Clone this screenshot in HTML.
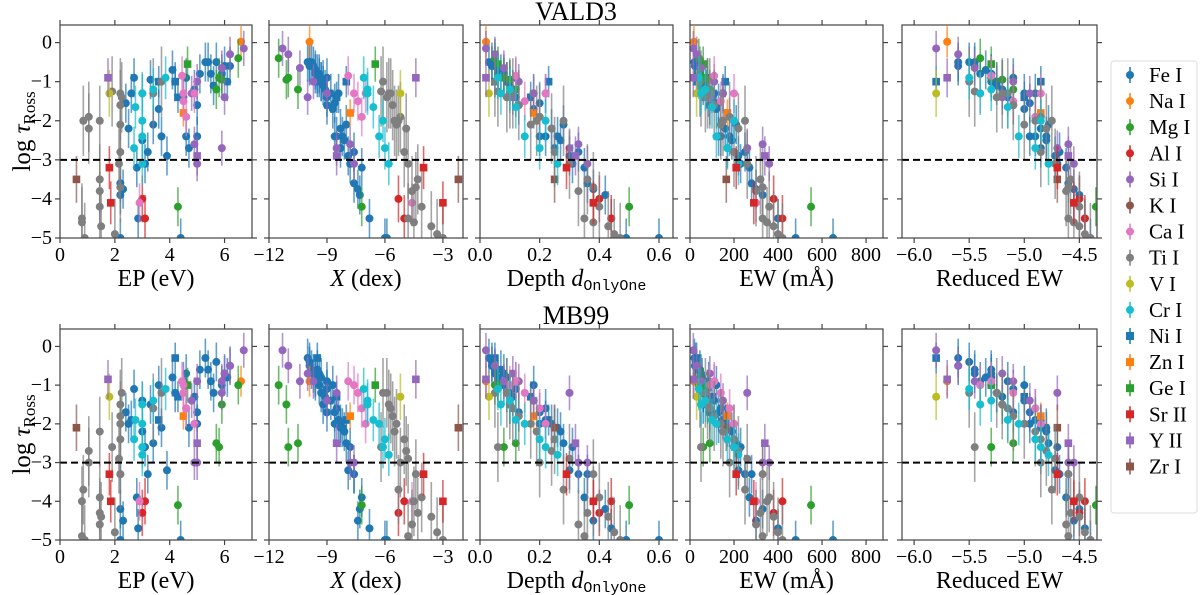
<!DOCTYPE html>
<html><head><meta charset="utf-8">
<style>
html,body{margin:0;padding:0;background:#fff;}
svg{display:block;}
svg text{font-family:"Liberation Serif",serif;}
</style></head>
<body>
<svg id="fig" width="1200" height="595" viewBox="0 0 1200 595" font-family="Liberation Serif, serif"></svg>
<script>
// species: 0 Fe I,1 Na I,2 Mg I,3 Al I,4 Si I,5 K I,6 Ca I,7 Ti I,8 V I,9 Cr I,10 Ni I,11 Zn I,12 Ge I,13 Sr II,14 Y II,15 Zr I
const speciesNames = ["Fe I","Na I","Mg I","Al I","Si I","K I","Ca I","Ti I","V I","Cr I","Ni I","Zn I","Ge I","Sr II","Y II","Zr I"];
const speciesColors = ["#1f77b4","#ff7f0e","#2ca02c","#d62728","#9467bd","#8c564b","#e377c2","#7f7f7f","#bcbd22","#17becf","#1f77b4","#ff7f0e","#2ca02c","#d62728","#9467bd","#8c564b"];
const speciesErr = [0.5,0.4,0.5,0.6,0.45,0.5,0.5,0.9,0.6,0.55,0.4,0.35,0.45,0.55,0.5,0.6];
const lineSpecies = [0,0,0,0,0,0,0,0,0,0,0,0,0,0,0,0,0,0,0,0,0,0,0,0,0,0,0,0,0,0,0,0,0,0,0,0,0,0,0,10,10,10,1,11,2,2,2,2,2,12,3,3,4,4,4,4,4,4,4,4,4,15,6,6,6,6,6,6,7,7,7,7,7,7,7,7,7,7,7,7,7,7,7,7,7,7,7,7,7,7,8,9,9,9,9,9,9,9,9,13,13,14,14];
const lineEP = [2.2,2.2,2.3,2.4,2.5,2.6,2.7,2.85,3.0,3.0,3.1,3.3,3.6,3.7,3.9,4.1,4.2,4.5,4.6,4.6,4.7,4.9,5.0,5.0,5.1,5.4,5.5,5.6,5.7,5.9,6.0,6.1,6.2,5.3,2.2,4.4,3.4,3.2,2.8,3.6,4.3,4.2,6.6,4.5,6.5,4.3,5.8,5.7,5.9,4.65,3.1,3.0,6.7,6.2,5.9,5.0,4.9,5.0,6.0,4.8,5.9,0.6,2.9,4.45,4.5,4.6,4.5,4.9,0.8,0.85,0.8,1.05,1.05,1.45,1.45,1.45,1.45,1.5,2.2,2.2,2.2,2.2,2.15,2.25,2.2,1.9,3.7,3.4,2.0,0.9,1.8,3.0,2.7,3.0,3.0,3.4,3.0,2.75,3.85,1.8,1.85,1.75,5.0];
const lineX = [-7.3,-7.6,-7.4,-8.6,-8.3,-8.4,-9.0,-6.8,-8.8,-8.1,-7.8,-9.2,-8.7,-8.2,-7.9,-9.6,-9.3,-9.0,-8.5,-9.4,-8.3,-9.1,-9.0,-8.6,-9.5,-9.8,-9.6,-9.2,-9.9,-9.4,-9.7,-9.3,-9.9,-10.0,-6.0,-5.9,-8.0,-7.6,-7.2,-8.0,-8.5,-9.5,-9.9,-7.8,-11.5,-7.2,-11.0,-10.5,-11.1,-6.5,-5.0,-5.3,-11.3,-11.0,-10.4,-7.6,-7.8,-9.7,-10.0,-9.0,-8.5,-2.2,-4.6,-7.9,-7.4,-7.2,-7.6,-7.0,-4.8,-5.3,-4.5,-5.2,-4.9,-4.3,-4.1,-4.6,-5.5,-3.6,-5.8,-5.6,-5.4,-5.0,-4.8,-5.9,-4.4,-6.2,-6.1,-5.7,-3.3,-3.0,-5.2,-6.9,-6.0,-6.3,-5.8,-6.9,-6.1,-6.6,-7.1,-4.0,-3.0,-4.4,-8.5];
const lineDepth = [.42,.36,.38,.2,.24,.22,.12,.44,.18,.27,.31,.10,.18,.26,.30,.06,.09,.12,.22,.08,.25,.11,.13,.20,.07,.05,.06,.10,.04,.08,.05,.09,.04,.03,.49,.6,.28,.33,.35,.23,.17,.05,.02,.18,.05,.5,.08,.12,.10,.06,.44,.40,.02,.05,.08,.36,.33,.13,.11,.18,.30,.25,.38,.12,.15,.20,.10,.22,.35,.28,.38,.20,.24,.36,.40,.33,.19,.43,.10,.13,.17,.25,.30,.09,.38,.06,.05,.11,.45,.47,.03,.07,.20,.15,.26,.10,.22,.12,.06,.29,.38,.02,.32];
const lineEW = [330,280,300,130,160,150,80,400,110,190,230,60,120,180,220,40,60,85,140,50,170,75,90,130,45,30,35,60,25,45,30,55,22,20,480,650,210,250,270,160,100,30,18,170,40,550,60,90,80,60,420,380,15,30,50,360,330,110,90,150,260,165,300,110,140,180,90,200,330,250,350,180,220,320,360,300,150,380,80,110,140,200,260,70,330,50,45,90,400,420,30,50,170,120,220,70,200,100,40,210,290,15,340];
const lineRedEW = [-4.5,-4.6,-4.55,-4.95,-4.85,-4.9,-5.1,-4.45,-5.0,-4.8,-4.7,-5.2,-5.0,-4.8,-4.72,-5.35,-5.25,-5.15,-4.9,-5.3,-4.85,-5.2,-5.1,-4.95,-5.3,-5.45,-5.4,-5.25,-5.5,-5.3,-5.45,-5.3,-5.6,-5.6,-4.4,-4.3,-4.78,-4.68,-4.62,-4.85,-5.0,-5.8,-5.7,-4.85,-5.4,-4.35,-5.3,-5.1,-5.2,-5.3,-4.45,-4.5,-5.8,-5.6,-5.45,-4.55,-4.6,-5.1,-5.2,-4.95,-4.7,-4.7,-4.55,-5.3,-5.1,-4.9,-5.4,-4.85,-4.6,-4.75,-4.55,-4.85,-4.8,-4.58,-4.5,-4.62,-4.9,-4.5,-5.2,-5.1,-5.0,-4.85,-4.72,-5.25,-4.6,-5.45,-5.5,-5.15,-4.45,-4.4,-5.8,-5.4,-4.9,-5.05,-4.78,-5.3,-4.85,-5.15,-5.5,-4.7,-4.55,-5.7,-4.6];
const tauVALD3 = [-3.9,-3.6,-3.75,-1.55,-2.2,-1.3,-0.9,-4.5,-1.3,-2.5,-3.1,-0.95,-1.7,-2.4,-2.9,-0.7,-1.0,-1.4,-2.4,-0.9,-2.7,-1.2,-1.6,-2.4,-0.8,-0.5,-0.8,-1.1,-0.5,-0.8,-0.6,-1.0,-0.6,-0.5,-5.0,-5.0,-2.1,-2.8,-3.2,-1.0,-1.4,-1.0,0.02,-1.8,-0.4,-4.2,-0.9,-1.2,-0.95,-0.55,-4.5,-4.0,-0.15,-0.3,-0.65,-3.1,-2.6,-1.0,-1.4,-1.3,-2.7,-3.5,-4.1,-0.85,-1.5,-1.9,-1.3,-1.3,-4.5,-2.0,-4.6,-1.9,-2.2,-3.5,-4.2,-3.8,-2.0,-4.7,-1.3,-1.6,-2.1,-2.8,-3.1,-1.4,-3.7,-1.25,-1.0,-1.3,-4.9,-5.0,-1.3,-1.3,-2.7,-2.4,-3.1,-1.2,-2.0,-1.65,-0.9,-3.2,-4.1,-0.9,-2.9];
const tauMB99 = [-4.2,-3.3,-4.5,-1.7,-2.0,-1.9,-1.1,-4.7,-1.4,-2.2,-2.6,-1.5,-1.0,-2.1,-3.2,-0.8,-1.2,-0.9,-1.6,-0.7,-2.1,-1.3,-1.7,-2.0,-0.6,-0.6,-0.9,-1.2,-0.4,-1.0,-0.7,-0.8,-0.5,-0.3,-5.0,-5.0,-2.5,-3.3,-3.9,-1.9,-1.3,-0.3,-0.9,-1.8,-1.0,-4.1,-2.6,-2.5,-1.5,-1.0,-4.0,-4.3,-0.1,-0.5,-0.9,-3.0,-3.0,-0.9,-0.7,-1.4,-1.2,-2.1,-4.0,-0.9,-1.2,-1.6,-1.0,-2.0,-4.9,-3.7,-4.0,-3.0,-2.7,-4.3,-3.9,-4.6,-2.2,-4.4,-1.5,-1.8,-2.0,-2.4,-2.9,-1.2,-3.3,-2.6,-1.2,-1.6,-4.8,-5.0,-1.3,-1.5,-2.4,-2.0,-2.8,-1.4,-2.6,-1.9,-1.1,-3.3,-4.0,-0.85,-2.5];
const yTicks = [0,-1,-2,-3,-4,-5];
const epTicks = [0,2,4,6], xTicks = [-12,-9,-6,-3], depthTicks = [0,0.2,0.4,0.6], ewTicks = [0,200,400,600,800], rewTicks = [-6,-5.5,-5,-4.5];

const NS = "http://www.w3.org/2000/svg";
const svg = document.getElementById("fig");
const FONT = "Liberation Serif, serif";
function mk(tag, attrs, parent){ const e=document.createElementNS(NS,tag); for(const k in attrs) e.setAttribute(k,attrs[k]); if(tag==="text") e.setAttribute("font-family",FONT); (parent||svg).appendChild(e); return e; }

const cols = [
 {name:"ep",x0:60,x1:252,d0:0,d1:7,ticks:epTicks,fmt:v=>String(v),vals:lineEP},
 {name:"x",x0:269,x1:463,d0:-12,d1:-1.96,ticks:xTicks,fmt:v=>"\u2212"+Math.abs(v),vals:lineX},
 {name:"depth",x0:480,x1:673,d0:0,d1:0.647,ticks:depthTicks,fmt:v=>v.toFixed(1),vals:lineDepth},
 {name:"ew",x0:690,x1:883,d0:0,d1:877,ticks:ewTicks,fmt:v=>String(v),vals:lineEW},
 {name:"reduced-ew",x0:902,x1:1097,d0:-6.11,d1:-4.34,ticks:rewTicks,fmt:v=>"\u2212"+Math.abs(v).toFixed(1),vals:lineRedEW}
];
const rows = [
 {name:"vald3",y0:25,y1:238,taus:tauVALD3},
 {name:"mb99",y0:329,y1:540,taus:tauMB99}
];
const yd0=-5, yd1=0.45;
const xlabels = [
 '<tspan>EP  (eV)</tspan>',
 '<tspan font-style="italic">X</tspan><tspan>  (dex)</tspan>',
 '<tspan>Depth </tspan><tspan font-style="italic">d</tspan><tspan font-family="Liberation Mono,monospace" font-size="15" dy="4">OnlyOne</tspan>',
 '<tspan>EW  (mÅ)</tspan>',
 '<tspan>Reduced EW</tspan>'
];

rows.forEach((row,ri)=>{
  const ys = v => row.y1 - (v-yd0)/(yd1-yd0)*(row.y1-row.y0);
  cols.forEach((col,ci)=>{
    const xs = v => col.x0 + (v-col.d0)/(col.d1-col.d0)*(col.x1-col.x0);
    const g = mk("g",{});
    
    
    const cp = mk("clipPath",{id:"c"+ri+ci},g);
    mk("rect",{x:col.x0,y:row.y0,width:col.x1-col.x0,height:row.y1-row.y0},cp);
    const pts = mk("g",{"clip-path":"url(#c"+ri+ci+")"},g);
    
    
    for(let i=0;i<lineSpecies.length;i++){
      const s=lineSpecies[i], c=speciesColors[s];
      const px=xs(col.vals[i]), t=row.taus[i], py=ys(t), e=speciesErr[s];
      const eb = mk("line",{x1:px,x2:px,y1:ys(t+e),y2:ys(t-e),stroke:c,"stroke-width":1.6,"stroke-opacity":0.7},pts);
      
      
      let m;
      if(s>=10){ m = mk("rect",{x:px-3.8,y:py-3.8,width:7.6,height:7.6,fill:c},pts); }
      else { m = mk("circle",{cx:px,cy:py,r:4,fill:c},pts); }
      
      
    }
    const dl = mk("line",{x1:col.x0,x2:col.x1,y1:ys(-3),y2:ys(-3),stroke:"#000","stroke-width":2,"stroke-dasharray":"7,4"},g);
    
    
    const fr = mk("rect",{x:col.x0,y:row.y0,width:col.x1-col.x0,height:row.y1-row.y0,fill:"none",stroke:"#444","stroke-width":1.2},g);
    
    
    col.ticks.forEach(v=>{
      const px=xs(v);
      mk("line",{x1:px,x2:px,y1:row.y1,y2:row.y1+5,stroke:"#444","stroke-width":1.2},g);
      mk("line",{x1:px,x2:px,y1:row.y0,y2:row.y0-5,stroke:"#444","stroke-width":1.2},g);
      const tl = mk("text",{x:px,y:row.y1+23,"font-size":20,"text-anchor":"middle",fill:"#000"},g);
      tl.textContent = col.fmt(v);
      
      
    });
    yTicks.forEach(v=>{
      const py=ys(v);
      mk("line",{x1:col.x0-5,x2:col.x0,y1:py,y2:py,stroke:"#444","stroke-width":1.2},g);
      mk("line",{x1:col.x1,x2:col.x1+5,y1:py,y2:py,stroke:"#444","stroke-width":1.2},g);
      if(ci===0){
        const tl = mk("text",{x:col.x0-8,y:py+6,"font-size":20,"text-anchor":"end",fill:"#000"},g);
        tl.textContent = v===0 ? "0" : "\u2212"+Math.abs(v);
        
        
      }
    });
    const xl = mk("text",{x:(col.x0+col.x1)/2,y:row.y1+48,"font-size":24,"text-anchor":"middle",fill:"#000"},g);
    xl.innerHTML = xlabels[ci];
    
    
  });
  const yl = mk("text",{x:0,y:0,"font-size":25,"text-anchor":"middle",fill:"#000",transform:"translate(30,"+((row.y0+row.y1)/2)+") rotate(-90)"});
  yl.innerHTML = '<tspan>log </tspan><tspan font-style="italic">τ</tspan><tspan font-size="17" dy="5">Ross</tspan>';
  
  
  const tt = mk("text",{x:576,y:row.y0-5,"font-size":26,"text-anchor":"middle",fill:"#000"});
  tt.textContent = ri===0 ? "VALD3" : "MB99";
  
  
});

const lg = mk("g",{});


mk("rect",{x:1111,y:61,width:86,height:452,rx:3,fill:"#fff",stroke:"#ddd","stroke-width":1},lg);
speciesNames.forEach((n,i)=>{
  const y = 75 + i*26.1, c = speciesColors[i];
  const e = mk("g",{},lg);
  
  
  mk("line",{x1:1130,x2:1130,y1:y-8,y2:y+8,stroke:c,"stroke-width":1.5},e);
  if(i>=10) mk("rect",{x:1126,y:y-4,width:8,height:8,fill:c},e);
  else mk("circle",{cx:1130,cy:y,r:4,fill:c},e);
  const t = mk("text",{x:1149,y:y+7,"font-size":21,fill:"#000"},e);
  t.textContent = n;
});
</script>
</body></html>
